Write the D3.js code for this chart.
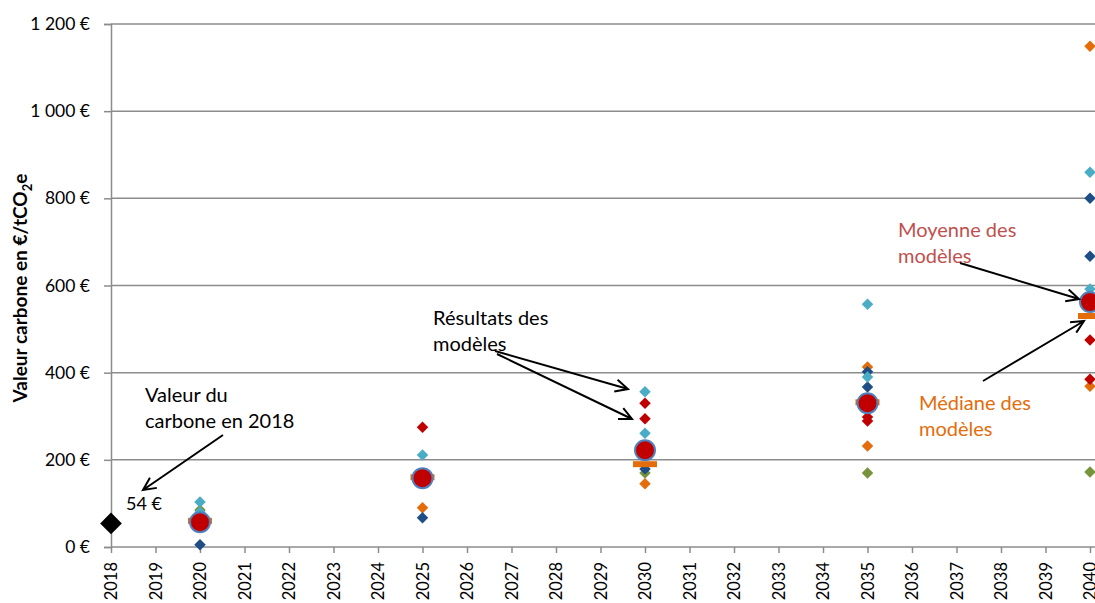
<!DOCTYPE html>
<html>
<head>
<meta charset="utf-8">
<script src="https://cdn.jsdelivr.net/npm/d3@7"></script>
<style>
  body { margin: 0; background: #fff; }
  text { font-family: Lato, "Open Sans", sans-serif; }
</style>
</head>
<body>
<div id="chart"></div>
<script>
// axis ticks
var years = d3.range(2018, 2041);
var yTicks = [0, 200, 400, 600, 800, 1000, 1200];

// model results (€/tCO2e) for 2020, 2025, 2030, 2035, 2040
var modelYears = [2020, 2025, 2030, 2035, 2040];
var modelA = [5, 67, 179, 402, 800];
var modelB = [null, null, null, 367, 667];
var modelC = [103, 211, 356, 557, 860];
var modelD = [80, null, 261, 390, 592];
var modelE = [null, 275, 330, 298, 475];
var modelF = [null, null, 294, 289, 385];
var modelG = [62, 90, 145, 232, 369];
var modelH = [null, null, null, 413, 1149];
var modelI = [85, 168, 170, 170, 172];
var models = [modelI, modelG, modelH, modelA, modelB, modelD, modelC, modelF, modelE];
var modelColors = ["#77933C", "#E46C0A", "#E46C0A", "#1F4E87", "#1F4E87", "#4BACC6", "#4BACC6", "#C00000", "#C00000"];

var meanValues = [57, 158, 222, 330, 562];
var medianValues = [60, 160, 190, 332, 530];

var value2018 = 54;

var W = 1095, H = 603;
var svg = d3.select("#chart").append("svg")
    .attr("width", W)
    .attr("height", H);

var x = d3.scaleLinear().domain([2018, 2040]).range([111, 1090]);
var y = d3.scaleLinear().domain([0, 1200]).range([547, 24]);

var grey = "#8C8C8C";
var fr = d3.formatLocale({decimal: ",", thousands: "\u00a0", grouping: [3], currency: ["", " €"]});

// gridlines
svg.append("g")
  .selectAll("line")
  .data(yTicks.slice(1))
  .enter()
  .append("line")
    .attr("x1", 111).attr("x2", W)
    .attr("y1", function (d) { return y(d); })
    .attr("y2", function (d) { return y(d); })
    .style("stroke", grey)
    .style("stroke-width", 1.5);

// y axis
var yAxis = svg.append("g")
  .attr("transform", "translate(111,0)")
  .call(d3.axisLeft(y).tickValues(yTicks).tickSize(7).tickPadding(14)
    .tickFormat(function (d) { return fr.format(",")(d) + " €"; }));
yAxis.selectAll("path, line").style("stroke", grey).style("stroke-width", 1.5);
yAxis.selectAll("text").style("font-size", "17.5px").style("fill", "#000")
  .style("font-family", "Lato, sans-serif");

// x axis
var xAxis = svg.append("g")
  .attr("transform", "translate(0,547)")
  .call(d3.axisBottom(x).tickValues(years).tickSize(6).tickFormat(d3.format("d")));
xAxis.select("path").attr("d", "M111,0H" + W);
xAxis.selectAll("path, line").style("stroke", grey).style("stroke-width", 1.5);
xAxis.selectAll("text")
  .style("font-size", "16.5px").style("fill", "#000")
  .style("font-family", "Lato, sans-serif")
  .attr("text-anchor", "end")
  .attr("transform", "rotate(-90)")
  .attr("x", -15).attr("y", 0).attr("dy", "0.35em");

// y title
svg.append("text")
  .attr("transform", "translate(27,288) rotate(-90)")
  .attr("text-anchor", "middle")
  .style("font-size", "19px")
  .style("font-weight", "bold")
  .html("Valeur carbone en €/tCO<tspan font-size='13px' dy='5'>2</tspan><tspan dy='-5'>e</tspan>");

var diamond = d3.symbol().type(d3.symbolDiamond2);

// model diamonds
models.forEach(function (m, i) {
  svg.append("g")
    .selectAll("path")
    .data(m.map(function (v, j) { return {year: modelYears[j], v: v}; })
      .filter(function (d) { return d.v !== null; }))
    .enter()
    .append("path")
      .attr("d", diamond.size(84))
      .attr("transform", function (d) { return "translate(" + x(d.year) + "," + y(d.v) + ")"; })
      .style("fill", modelColors[i]);
});

// median bars
svg.append("g")
  .selectAll("rect")
  .data(medianValues)
  .enter()
  .append("rect")
    .attr("x", function (d, i) { return x(modelYears[i]) - 12; })
    .attr("y", function (d) { return y(d) - 3; })
    .attr("width", 24)
    .attr("height", 6)
    .style("fill", "#E46C0A");

// mean circles
svg.append("g")
  .selectAll("circle")
  .data(meanValues)
  .enter()
  .append("circle")
    .attr("cx", function (d, i) { return x(modelYears[i]); })
    .attr("cy", function (d) { return y(d); })
    .attr("r", 10)
    .style("fill", "#C00000")
    .style("stroke", "#4F81BD")
    .style("stroke-width", 2);

// 2018 value
svg.append("path")
  .attr("d", diamond.size(300))
  .attr("transform", "translate(" + x(2018) + "," + y(value2018) + ")")
  .style("fill", "#000");

// annotations
function label(lines, x0, y0, color, size) {
  var t = svg.append("text").style("font-size", (size || 20) + "px").style("fill", color);
  lines.forEach(function (s, i) {
    t.append("tspan").attr("x", x0).attr("y", y0 + i * 26).text(s);
  });
}
label(["Valeur du", "carbone en 2018"], 145, 402, "#000");
label(["54 €"], 126, 510, "#000", 18);
label(["Résultats des", "modèles"], 433, 325, "#000");
label(["Moyenne des", "modèles"], 898, 237, "#C0504D");
label(["Médiane des", "modèles"], 919, 410, "#E46C0A");

function arrow(x1, y1, x2, y2) {
  var a = Math.atan2(y2 - y1, x2 - x1), L = 14, s = 0.45;
  svg.append("path")
    .attr("d", "M" + x1 + "," + y1 + "L" + x2 + "," + y2 +
      "M" + (x2 - L * Math.cos(a - s)) + "," + (y2 - L * Math.sin(a - s)) +
      "L" + x2 + "," + y2 +
      "L" + (x2 - L * Math.cos(a + s)) + "," + (y2 - L * Math.sin(a + s)))
    .style("fill", "none")
    .style("stroke", "#000")
    .style("stroke-width", 2);
}
arrow(223, 435, 143, 490);
arrow(495, 351, 628, 389);
arrow(497, 354, 632, 419);
arrow(960, 263, 1079, 299);
arrow(983, 381, 1084, 321);
</script>
</body>
</html>
